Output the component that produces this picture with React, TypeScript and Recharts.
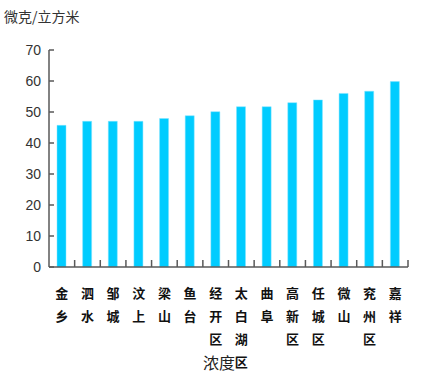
import React from 'react';
import { BarChart, Bar, XAxis, YAxis } from 'recharts';

const districts = ['金乡', '泗水', '邹城', '汶上', '梁山', '鱼台', '经开区', '太白湖区', '曲阜', '高新区', '任城区', '微山', '兖州区', '嘉祥'];
const concentration = [45.7, 47.0, 47.0, 47.0, 47.9, 48.8, 50.1, 51.7, 51.7, 53.0, 53.9, 56.0, 56.7, 59.8];
const yTicks = [0, 10, 20, 30, 40, 50, 60, 70];

const chartData = districts.map((name, i) => ({ name, value: concentration[i] }));

const W = 446;
const H = 388;
const margin = { top: 50, right: 38, left: 0, bottom: 26 };
const yAxisWidth = 49;
const band = (W - margin.left - margin.right - yAxisWidth) / districts.length;
const axisColor = '#595959';

const XTick = ({ x, y, payload }: any) => {
  const chars = String(payload.value).split('');
  return (
    <g>
      <line x1={x + band / 2} x2={x + band / 2} y1={y} y2={y - 7} stroke={axisColor} strokeWidth={1.5} />
      {chars.map((c, i) => (
        <text
          key={i}
          x={x}
          y={y + 25 + i * 23.3}
          textAnchor="middle"
          dominantBaseline="central"
          fontSize={13}
          fontWeight={700}
          fill="#111"
          fontFamily="'Noto Sans CJK SC', sans-serif"
        >
          {c}
        </text>
      ))}
    </g>
  );
};

const YTick = ({ x, y, payload }: any) => (
  <g>
    <line x1={x} x2={x + 5} y1={y} y2={y} stroke={axisColor} strokeWidth={1.5} />
    <text
      x={x - 8}
      y={y}
      textAnchor="end"
      dominantBaseline="central"
      fontSize={14}
      fill="#333"
      fontFamily="'Liberation Sans Narrow', 'Arial Narrow', 'Liberation Sans', sans-serif"
    >
      {payload.value}
    </text>
  </g>
);

export default function App() {
  return (
    <div style={{ position: 'absolute', left: 0, top: 0, width: W, height: H, background: '#fff' }}>
      <div
        style={{
          position: 'absolute',
          left: 4,
          top: 6,
          fontSize: 14,
          color: '#333',
          fontFamily: "'Noto Sans CJK SC', sans-serif",
          lineHeight: '20px',
        }}
      >
        微克/立方米
      </div>
      <BarChart width={W} height={H} data={chartData} margin={margin} barSize={9}>
        <XAxis
          dataKey="name"
          interval={0}
          height={95}
          tickLine={false}
          tickSize={0}
          tickMargin={0}
          axisLine={{ stroke: axisColor, strokeWidth: 1.5 }}
          tick={<XTick />}
        />
        <YAxis
          width={yAxisWidth}
          domain={[0, 70]}
          ticks={yTicks}
          interval={0}
          tickLine={false}
          tickSize={0}
          tickMargin={0}
          axisLine={{ stroke: axisColor, strokeWidth: 1.5 }}
          tick={<YTick />}
        />
        <Bar dataKey="value" fill="#00CCFF" stroke="#80E5FF" strokeWidth={0.5} isAnimationActive={false} />
      </BarChart>
      <div
        style={{
          position: 'absolute',
          left: 0,
          width: 438,
          top: 352,
          textAlign: 'center',
          fontSize: 16,
          color: '#222',
          fontFamily: "'Noto Sans CJK SC', sans-serif",
          lineHeight: '20px',
        }}
      >
        浓度
      </div>
    </div>
  );
}
